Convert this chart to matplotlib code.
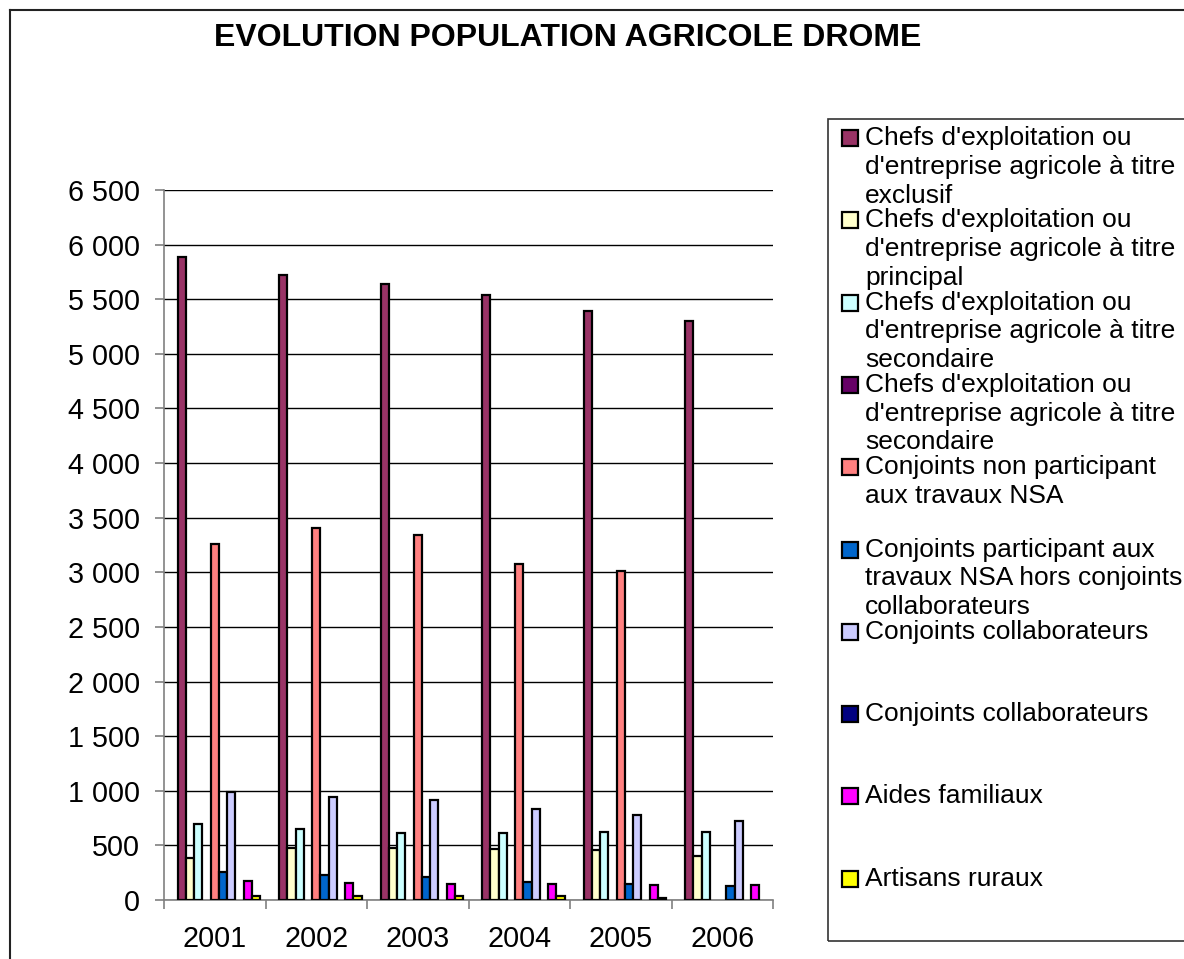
import numpy as np
import matplotlib.pyplot as plt
from matplotlib.patches import Rectangle
from matplotlib.lines import Line2D

plt.rcParams['font.family'] = ['Liberation Sans', 'DejaVu Sans']

years = ['2001', '2002', '2003', '2004', '2005', '2006']

labels = [
    "Chefs d'exploitation ou\nd'entreprise agricole à titre\nexclusif",
    "Chefs d'exploitation ou\nd'entreprise agricole à titre\nprincipal",
    "Chefs d'exploitation ou\nd'entreprise agricole à titre\nsecondaire",
    "Chefs d'exploitation ou\nd'entreprise agricole à titre\nsecondaire",
    "Conjoints non participant\naux travaux NSA",
    "Conjoints participant aux\ntravaux NSA hors conjoints\ncollaborateurs",
    "Conjoints collaborateurs",
    "Conjoints collaborateurs",
    "Aides familiaux",
    "Artisans ruraux",
]
colors = ['#993366', '#FFFFCC', '#CCFFFF', '#660066', '#FF8080',
          '#0066CC', '#CCCCFF', '#000080', '#FF00FF', '#FFFF00']

exclusif = [5890, 5720, 5635, 5540, 5390, 5300]
principal = [382, 479, 475, 467, 458, 406]
secondaire = [696, 650, 613, 610, 620, 626]
secondaire_bis = [0, 0, 0, 0, 0, 0]
non_participant = [3255, 3405, 3340, 3075, 3010, 0]
participant = [253, 229, 211, 168, 146, 131]
collaborateurs = [992, 946, 913, 836, 778, 726]
collaborateurs_bis = [0, 0, 0, 0, 0, 0]
aides = [174, 159, 143, 146, 140, 137]
artisans = [40, 38, 34, 34, 20, 0]

values = [exclusif, principal, secondaire, secondaire_bis, non_participant,
          participant, collaborateurs, collaborateurs_bis, aides, artisans]

W, H = 1184, 959
fig = plt.figure(figsize=(W / 100, H / 100), dpi=100)

def fx(px):
    return px / W

def fy(py):
    return 1 - py / H

ax = fig.add_axes([fx(164), fy(900), fx(773) - fx(164), fy(190) - fy(900)])

x = np.arange(len(years))
w = 0.0813
shift = 0.04
for j, (vals, c) in enumerate(zip(values, colors)):
    vals = np.array(vals)
    lw = np.where(vals > 0, 1.6, 0)
    ax.bar(x + 0.5 + shift + (j - 4.5) * w, vals, width=w, color=c,
           edgecolor='black', linewidth=lw, zorder=3)

ax.set_xlim(0, 6)
ax.set_ylim(0, 6500)
ax.set_yticks(range(0, 6501, 500))
ax.set_yticklabels([f"{v:,}".replace(',', ' ') for v in range(0, 6501, 500)],
                   fontsize=20.7)
ax.set_xticks(np.arange(7))
ax.set_xticklabels([])
ax.set_xticks(x + 0.5, minor=True)
ax.set_xticklabels(years, minor=True, fontsize=20.7)
ax.tick_params(axis='x', which='minor', length=0, pad=18)
ax.tick_params(axis='both', which='major', length=6.5, color='#808080',
               width=1.2, pad=10.8)
ax.yaxis.grid(True, color='black', linewidth=1, zorder=0)
for s in ['top', 'right']:
    ax.spines[s].set_visible(False)
for s in ['left', 'bottom']:
    ax.spines[s].set_color('#808080')
    ax.spines[s].set_linewidth(1.2)

fig.text(fx(214), fy(38), 'EVOLUTION POPULATION AGRICOLE DROME',
         fontsize=23, fontweight='bold', ha='left', va='center')

# outer chart frame (cut off on right and bottom)
fig.add_artist(Line2D([fx(10), fx(10)], [fy(10), fy(H + 5)], color='#222222', lw=1.5))
fig.add_artist(Line2D([fx(10), fx(W + 5)], [fy(10), fy(10)], color='#222222', lw=1.5))

# legend box
fig.add_artist(Rectangle((fx(828), fy(941)), fx(W + 20) - fx(828), fy(119) - fy(941),
                         transform=fig.transFigure, facecolor='none',
                         edgecolor='#333333', lw=1.2))

for k, (lab, c) in enumerate(zip(labels, colors)):
    yc = 138 + k * 82.3
    fig.add_artist(Rectangle((fx(842), fy(yc + 8)), fx(16), 16 / H,
                             transform=fig.transFigure, facecolor=c,
                             edgecolor='black', lw=1.6))
    fig.text(fx(865), fy(yc - 12), lab, fontsize=19, ha='left', va='top',
             linespacing=1.25)

fig.savefig('out.png', dpi=100)
